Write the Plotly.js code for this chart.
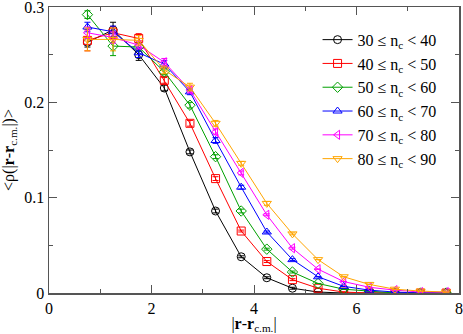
<!DOCTYPE html>
<html>
<head>
<meta charset="utf-8">
<script src="https://cdn.plot.ly/plotly-3.0.1.min.js"></script>
<style>
  html, body { margin: 0; padding: 0; background: #fff; }
  #chart { width: 463px; height: 334px; }
</style>
</head>
<body>
<div id="chart"></div>
<script>
// bin centres of |r - r_cm|
const r = [0.75, 1.25, 1.75, 2.25, 2.75, 3.25, 3.75, 4.25, 4.75, 5.25, 5.75, 6.25, 6.75, 7.25, 7.75]

// <rho> for each n_c bin
const rho30 = [0.263, 0.276, 0.250, 0.215, 0.148, 0.086, 0.038, 0.016, 0.005, 0.001, 0.000, 0.000, 0.000, 0.000, 0.000]
const rho40 = [0.265, 0.273, 0.267, 0.223, 0.178, 0.120, 0.065, 0.033, 0.014, 0.005, 0.001, 0.000, 0.000, 0.000, 0.000]
const rho50 = [0.292, 0.259, 0.258, 0.232, 0.197, 0.143, 0.086, 0.046, 0.022, 0.010, 0.004, 0.002, 0.000, 0.000, 0.000]
const rho60 = [0.279, 0.274, 0.252, 0.240, 0.211, 0.160, 0.111, 0.064, 0.035, 0.017, 0.007, 0.003, 0.001, 0.000, 0.000]
const rho70 = [0.273, 0.268, 0.260, 0.242, 0.213, 0.169, 0.126, 0.082, 0.047, 0.025, 0.012, 0.006, 0.003, 0.001, 0.001]
const rho80 = [0.266, 0.266, 0.265, 0.234, 0.216, 0.178, 0.136, 0.094, 0.062, 0.035, 0.017, 0.009, 0.004, 0.002, 0.001]

// error bars
const err30 = [0.005, 0.008, 0.006, 0.003, 0.002, 0.002, 0.001, 0.001, 0.001, 0, 0, 0, 0, 0, 0]
const err40 = [0.011, 0.006, 0.005, 0.003, 0.003, 0.002, 0.001, 0.001, 0.001, 0, 0, 0, 0, 0, 0]
const err50 = [0.004, 0.010, 0.004, 0.003, 0.003, 0.002, 0.002, 0.001, 0.001, 0, 0, 0, 0, 0, 0]
const err60 = [0.005, 0.006, 0.005, 0.004, 0.003, 0.003, 0.002, 0.001, 0.001, 0, 0, 0, 0, 0, 0]
const err70 = [0.006, 0.006, 0.004, 0.004, 0.003, 0.003, 0.002, 0.001, 0.001, 0, 0, 0, 0, 0, 0]
const err80 = [0.012, 0.012, 0.005, 0.004, 0.004, 0.003, 0.002, 0.002, 0.001, 0, 0, 0, 0, 0, 0]

const labels = [
    "30 ≤ n<sub>c</sub> &lt; 40",
    "40 ≤ n<sub>c</sub> &lt; 50",
    "50 ≤ n<sub>c</sub> &lt; 60",
    "60 ≤ n<sub>c</sub> &lt; 70",
    "70 ≤ n<sub>c</sub> &lt; 80",
    "80 ≤ n<sub>c</sub> &lt; 90",
]
const colors = ["#000000", "#ff0000", "#00a000", "#0000ff", "#ff00ff", "#ffa500"]
const symbols = ["circle-open", "square-open", "diamond-open", "triangle-up-open", "triangle-left-open", "triangle-down-open"]

const series = [rho30, rho40, rho50, rho60, rho70, rho80]
const errors = [err30, err40, err50, err60, err70, err80]

const font = "Liberation Serif, DejaVu Serif, serif"

const data = series.map((ys, i) => ({
    x: r,
    y: ys,
    mode: 'lines+markers',
    name: labels[i],
    line: { color: colors[i], width: 1 },
    marker: { symbol: symbols[i], size: 8, color: colors[i], line: { width: 1, color: colors[i] } },
    error_y: { type: 'data', array: errors[i], visible: true, color: colors[i], thickness: 1, width: 3 },
}))

const axisCommon = {
    showline: true,
    linecolor: '#555',
    linewidth: 1.5,
    mirror: 'allticks',
    ticks: 'inside',
    ticklen: 8,
    tickcolor: '#555',
    tickwidth: 1,
    showgrid: false,
    zeroline: false,
    ticklabeloverflow: 'allow',
    tickfont: { family: font, size: 16, color: '#000' },
}

const layout = {
    width: 463,
    height: 334,
    margin: { l: 49, r: 4, t: 7, b: 41 },
    paper_bgcolor: '#fff',
    plot_bgcolor: '#fff',
    font: { family: font, size: 16, color: '#000' },
    showlegend: true,
    legend: {
        x: 0.655, y: 0.945, xanchor: 'left', yanchor: 'top',
        bgcolor: 'rgba(0,0,0,0)',
        font: { family: font, size: 16 },
        tracegroupgap: 0,
        itemwidth: 30,
    },
    xaxis: Object.assign({}, axisCommon, {
        range: [0, 8],
        dtick: 2,
        minor: { dtick: 1, ticklen: 4, ticks: 'inside', tickcolor: '#555' },
        title: { text: "|<b>r</b>-<b>r</b><sub>c.m.</sub>|", font: { family: font, size: 16 }, standoff: 3 },
    }),
    yaxis: Object.assign({}, axisCommon, {
        range: [0, 0.3],
        tick0: 0,
        dtick: 0.1,
        minor: { dtick: 0.05, ticklen: 4, ticks: 'inside', tickcolor: '#555' },
        title: { text: "&lt;ρ(|<b>r</b>-<b>r</b><sub>c.m.</sub>|)&gt;", font: { family: font, size: 16 }, standoff: 8 },
    }),
}

Plotly.newPlot('chart', data, layout, { displayModeBar: false, staticPlot: true })
</script>
</body>
</html>
